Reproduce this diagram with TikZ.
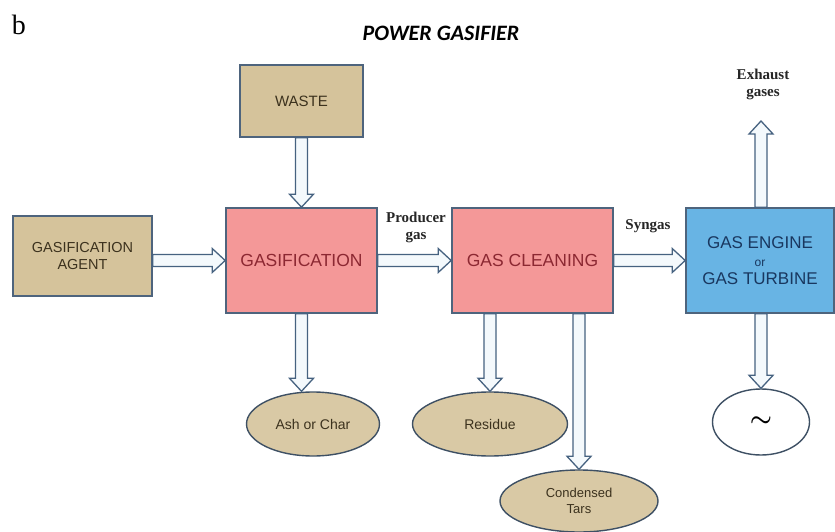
\documentclass[tikz,border=0pt]{standalone}
\usepackage{fontspec}
\setmainfont{Liberation Sans}
\newfontfamily\serifface{Liberation Serif}
\newfontfamily\titleface{Carlito}
\usetikzlibrary{calc,shapes.geometric}
\definecolor{tanfill}{RGB}{213,195,155}
\definecolor{pinkfill}{RGB}{244,152,152}
\definecolor{bluefill}{RGB}{104,180,228}
\definecolor{edgecol}{RGB}{78,100,125}
\definecolor{arrcol}{RGB}{70,98,128}
\definecolor{arrin}{RGB}{244,249,252}
\definecolor{redtext}{RGB}{140,40,50}
\definecolor{navytext}{RGB}{25,55,95}
\definecolor{browntext}{RGB}{60,50,30}
\newcommand\hollowarr[2]{%
  \path (#1) coordinate (ha) (#2) coordinate (hb);
  \coordinate (hh) at ($(hb)!13pt!(ha)$);
  \filldraw[arrsty] ($(ha)!6pt!90:(hb)$) -- ($(hh)!6pt!90:(hb)$) -- ($(hh)!12pt!90:(hb)$) -- (hb)
    -- ($(hh)!12pt!-90:(hb)$) -- ($(hh)!6pt!-90:(hb)$) -- ($(ha)!6pt!-90:(hb)$) -- cycle;
}
\begin{document}
\begin{tikzpicture}[x=1pt,y=-1pt,
  box/.style={draw=edgecol, line width=1.6pt, rectangle, inner sep=0pt, align=center},
  tanbox/.style={box, fill=tanfill, text=browntext},
  pinkbox/.style={box, fill=pinkfill, text=redtext, font=\fontsize{17.5}{20}\selectfont},
  bluebox/.style={box, fill=bluefill, text=navytext, font=\fontsize{17}{19}\selectfont},
  oval/.style={ellipse, draw=edgecol!80!black, line width=1.4pt, fill=tanfill!90!white, inner sep=0pt, text=browntext, align=center, font=\fontsize{14}{17}\selectfont},
  arrsty/.style={draw=arrcol, fill=arrin, line width=1.3pt},
  lbl/.style={font=\serifface\bfseries\fontsize{15}{17}\selectfont, text=black!85, align=center, inner sep=0pt}
]
\useasboundingbox (0,0) rectangle (835,532);
\fill[white] (0,0) rectangle (835,532);

\node[font=\serifface\fontsize{28}{30}\selectfont, inner sep=0pt] (blabel) at (19,25) {b};
\node[font=\titleface\bfseries\itshape\fontsize{22}{24}\selectfont, inner sep=0pt] (title) at (441,33) {POWER GASIFIER};

\node[tanbox, minimum width=123pt, minimum height=72pt, font=\fontsize{15}{18}\selectfont] (waste) at (301.5,101) {WASTE};
\node[tanbox, minimum width=139pt, minimum height=80pt, font=\fontsize{14.5}{17}\selectfont] (agent) at (82.5,256) {GASIFICATION\\AGENT};
\node[pinkbox, minimum width=151pt, minimum height=105pt] (gasif) at (301.5,260.5) {GASIFICATION};
\node[pinkbox, minimum width=161pt, minimum height=105pt] (gascl) at (532.5,260.5) {GAS CLEANING};
\node[bluebox, minimum width=148pt, minimum height=105pt] (engine) at (760,260.5) {GAS ENGINE\\[-1pt]{\fontsize{12}{14}\selectfont or}\\[-1pt]GAS TURBINE};

\node[oval, minimum width=133pt, minimum height=64pt] (ash) at (313,424) {Ash or Char};
\node[oval, minimum width=155pt, minimum height=64pt] (residue) at (490,424) {Residue};
\node[oval, minimum width=158pt, minimum height=62pt, font=\fontsize{13}{16}\selectfont] (tars) at (579,501) {Condensed\\Tars};
\node[ellipse, draw=edgecol!80!black, line width=1.4pt, fill=white, minimum width=97pt, minimum height=66pt, inner sep=0pt, font=\fontsize{28}{28}\selectfont\boldmath] (tilde) at (761,422) {$\sim$};

\coordinate (exhtip) at (761,121);
\node[lbl] (exhaust) at (763,84) {Exhaust\\gases};
\node[lbl] (producer) at (416,227) {Producer\\gas};
\node[lbl] (syngas) at (648,226) {Syngas};

\hollowarr{agent.east |- gasif.west}{gasif.west}
\hollowarr{waste.south}{gasif.north}
\hollowarr{gasif.east}{gascl.west}
\hollowarr{gascl.east}{engine.west}
\hollowarr{gasif.south}{gasif.south |- ash.north}
\hollowarr{residue.north |- gascl.south}{residue.north}
\hollowarr{tars.north |- gascl.south}{tars.north}
\hollowarr{exhtip |- engine.north}{exhtip}
\hollowarr{tilde.north |- engine.south}{tilde.north}
\end{tikzpicture}
\end{document}
